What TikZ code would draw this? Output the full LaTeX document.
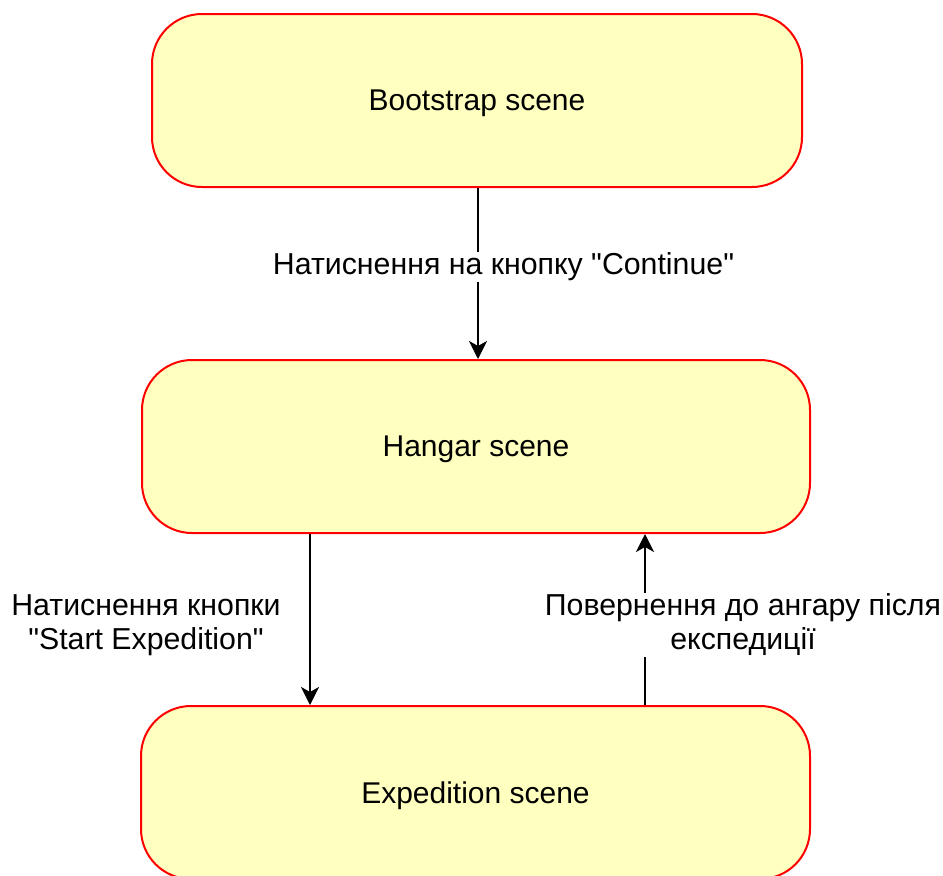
\documentclass[tikz,border=0pt]{standalone}
\usepackage{fontspec}
\setmainfont{Liberation Sans}[Ligatures=TeXOff]
\usetikzlibrary{arrows.meta}
\definecolor{boxfill}{RGB}{255,255,192}
\begin{document}
\begin{tikzpicture}[x=1pt,y=-1pt,
  scenebox/.style={draw=red, line width=2pt, fill=boxfill, rounded corners=50pt,
    minimum height=173pt, inner sep=0pt, text depth=0pt, font=\fontsize{30}{36}\selectfont},
  arr/.style={line width=2pt, -{Stealth[length=18pt,width=18pt,inset=5pt]}},
  lbl/.style={fill=white, inner sep=1pt, align=center, font=\fontsize{30.3}{34}\selectfont}]
\useasboundingbox (0,0) rectangle (943,876);
\node[scenebox, minimum width=650pt] (b1) at (477,100.5) {Bootstrap scene};
\node[scenebox, minimum width=668pt] (b2) at (476,446.5) {Hangar scene};
\node[scenebox, minimum width=669pt] (b3) at (475.5,792.5) {Expedition scene};
\coordinate (x1) at (478,0);
\coordinate (x2) at (310,0);
\coordinate (x3) at (645,0);
\draw[arr] (b1.south -| x1) -- (b2.north -| x1);
\draw[arr] (b2.south -| x2) -- (b3.north -| x2);
\draw[arr] (b3.north -| x3) -- (b2.south -| x3);
\node[lbl] (l1) at (503.5,267) {Натиснення на кнопку "Continue"};
\node[lbl] (l2) at (146,625) {Натиснення кнопки\\"Start Expedition"};
\node[lbl] (l3) at (743,625) {Повернення до ангару після\\експедиції};
\end{tikzpicture}
\end{document}
